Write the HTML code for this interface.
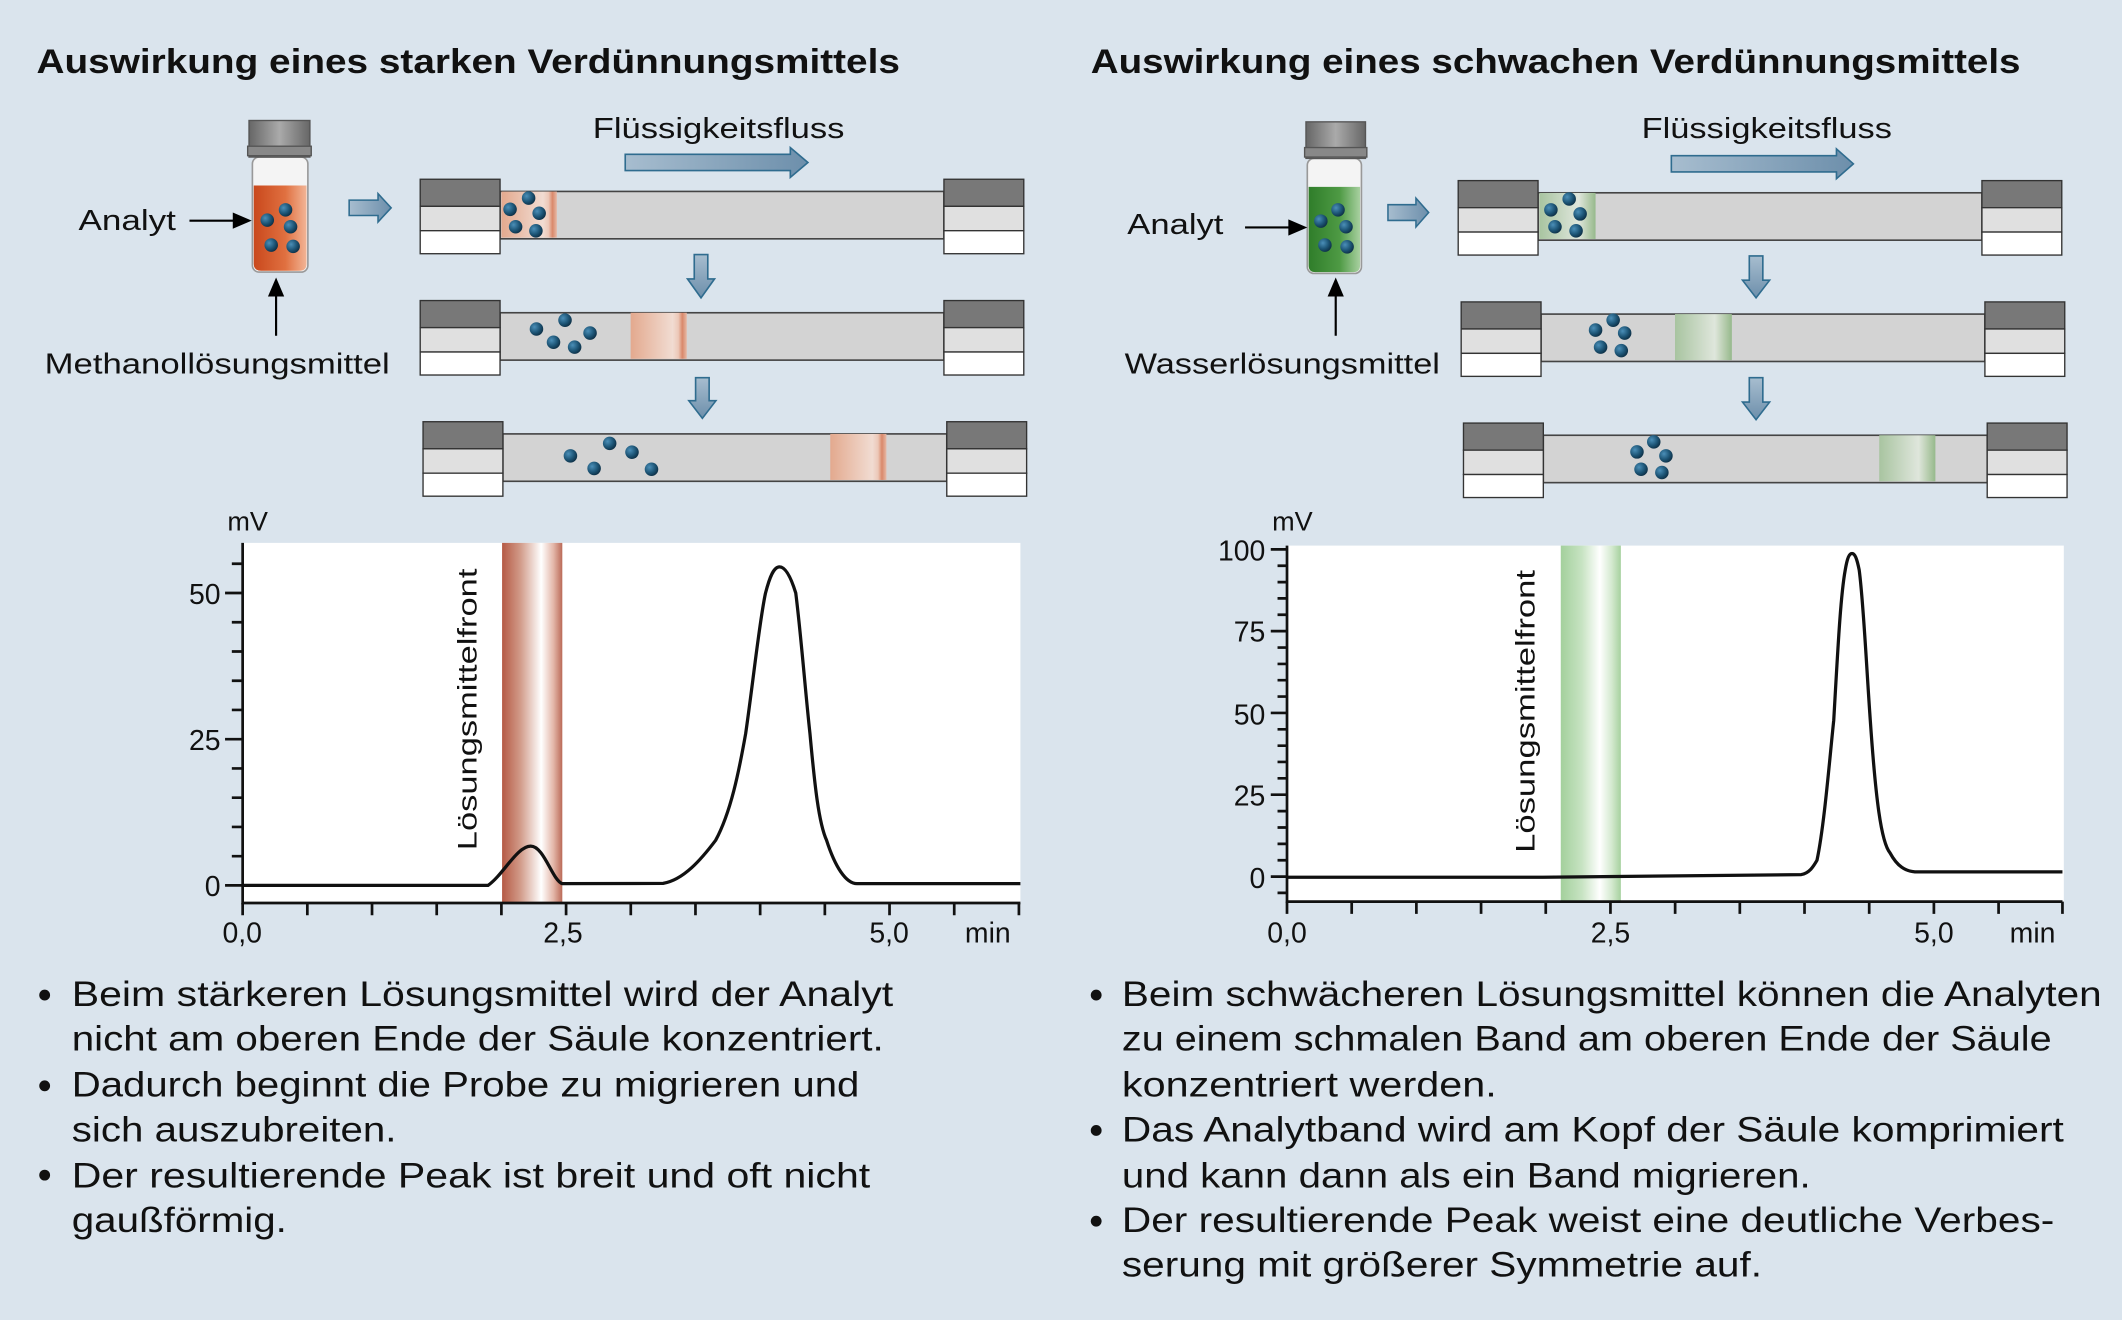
<!DOCTYPE html>
<html><head><meta charset="utf-8"><style>
html,body{margin:0;padding:0;background:#dae4ed;}
svg{display:block}
text{font-family:"Liberation Sans",sans-serif;fill:#111}
</style></head><body>
<svg width="2122" height="1320" viewBox="0 0 1568 975" preserveAspectRatio="none" xmlns="http://www.w3.org/2000/svg">
<defs>
<linearGradient id="orgV" x1="0" x2="1"><stop offset="0" stop-color="#c9481c"/><stop offset="0.6" stop-color="#e07040"/><stop offset="1" stop-color="#f2b596"/></linearGradient>
<linearGradient id="grnV" x1="0" x2="1"><stop offset="0" stop-color="#2f7d2a"/><stop offset="0.6" stop-color="#4e9a44"/><stop offset="1" stop-color="#a8d0a0"/></linearGradient>
<linearGradient id="capG" x1="0" x2="1"><stop offset="0" stop-color="#666"/><stop offset="0.5" stop-color="#aaa"/><stop offset="1" stop-color="#666"/></linearGradient>
<linearGradient id="oB" x1="0" x2="1"><stop offset="0" stop-color="#e3a98e"/><stop offset="0.75" stop-color="#f1dcd2"/><stop offset="0.85" stop-color="#ecc8b8"/><stop offset="0.92" stop-color="#d9886a"/><stop offset="1" stop-color="#e6b9a6"/></linearGradient>
<linearGradient id="gB" x1="0" x2="1"><stop offset="0" stop-color="#a8c4a0"/><stop offset="0.7" stop-color="#dfe6dc"/><stop offset="0.88" stop-color="#b4cbab"/><stop offset="1" stop-color="#96b98c"/></linearGradient>
<linearGradient id="rF" x1="0" x2="1"><stop offset="0" stop-color="#b55a45"/><stop offset="0.3" stop-color="#d19a88"/><stop offset="0.65" stop-color="#ffffff"/><stop offset="0.85" stop-color="#e4b8aa"/><stop offset="1" stop-color="#bb6a58"/></linearGradient>
<linearGradient id="gF" x1="0" x2="1"><stop offset="0" stop-color="#a3d09c"/><stop offset="0.35" stop-color="#c7e3c2"/><stop offset="0.65" stop-color="#ffffff"/><stop offset="0.85" stop-color="#d3e9ce"/><stop offset="1" stop-color="#a6d19f"/></linearGradient>
<linearGradient id="arH" x1="0" x2="1"><stop offset="0" stop-color="#a7bdcf"/><stop offset="1" stop-color="#6d8fab"/></linearGradient>
<linearGradient id="arV" x1="0" x2="0" y1="0" y2="1"><stop offset="0" stop-color="#a7bdcf"/><stop offset="1" stop-color="#6d8fab"/></linearGradient>
<radialGradient id="dot" cx="0.35" cy="0.35" r="0.7"><stop offset="0" stop-color="#4b8fb8"/><stop offset="0.6" stop-color="#1d5576"/><stop offset="1" stop-color="#0d2f45"/></radialGradient>
<g id="cap">
<rect x="0" y="0" width="59" height="20" fill="#787878" stroke="#333" stroke-width="1"/>
<rect x="0" y="20" width="59" height="18" fill="#e0e0e0" stroke="#333" stroke-width="1"/>
<rect x="0" y="38" width="59" height="17" fill="#fff" stroke="#333" stroke-width="1"/>
</g>
<g id="col">
<rect x="59" y="9" width="328" height="35" fill="#d3d3d3" stroke="#444" stroke-width="1.2"/>
<use href="#cap"/>
<use href="#cap" x="387"/>
</g>
<path id="harr" d="M0,-6 L22,-6 L22,-11 L32,0 L22,11 L22,6 L0,6 Z"/>
</defs>

<!-- ============ LEFT ============ -->
<text x="27" y="54" font-size="25" font-weight="bold" textLength="638" lengthAdjust="spacingAndGlyphs">Auswirkung eines starken Verdünnungsmittels</text>

<!-- vial -->
<rect x="186.5" y="116" width="41" height="85" rx="5" fill="#f4f4f4" stroke="#999" stroke-width="1.2"/>
<path d="M187.5,137 H226.5 V195 Q226.5,200 221,200 H193 Q187.5,200 187.5,195 Z" fill="url(#orgV)"/>
<rect x="184" y="89" width="45" height="27" fill="url(#capG)" stroke="#555"/>
<rect x="183" y="108" width="47" height="7" fill="#888" stroke="#555"/>
<g fill="url(#dot)"><circle cx="211" cy="155" r="5"/><circle cx="197.5" cy="162.6" r="5"/><circle cx="214.7" cy="167.5" r="5"/><circle cx="200.4" cy="181" r="5"/><circle cx="216.6" cy="182" r="5"/></g>
<text x="58" y="170" font-size="21" textLength="72" lengthAdjust="spacingAndGlyphs">Analyt</text>
<line x1="140" y1="163" x2="175" y2="163" stroke="#000" stroke-width="1.6"/><path d="M186,163 L172,157 L172,169 Z"/>
<line x1="204" y1="248" x2="204" y2="217" stroke="#000" stroke-width="1.6"/><path d="M204,205 L198,219 L210,219 Z"/>
<text x="33" y="276" font-size="21" textLength="255" lengthAdjust="spacingAndGlyphs">Methanollösungsmittel</text>
<g transform="translate(258,153.5) scale(0.97,0.95)"><use href="#harr" fill="url(#arH)" stroke="#2f6c8f" stroke-width="1.2"/></g>
<text x="438" y="102" font-size="21" textLength="186" lengthAdjust="spacingAndGlyphs">Flüssigkeitsfluss</text>
<path d="M462,114 L584,114 L584,109 L597,120 L584,131 L584,126 L462,126 Z" fill="url(#arH)" stroke="#2f6c8f" stroke-width="1.2"/>

<use href="#col" x="310.5" y="132.4"/>
<rect x="370.5" y="141.5" width="41" height="34" fill="url(#oB)"/>
<use href="#col" x="310.5" y="222"/>
<rect x="466" y="231" width="41.5" height="34" fill="url(#oB)"/>
<use href="#col" x="312.6" y="311.5"/>
<rect x="613.5" y="320.5" width="41.5" height="34" fill="url(#oB)"/>
<g fill="url(#dot)">
<circle cx="390.6" cy="146.3" r="5"/><circle cx="376.9" cy="154.6" r="5"/><circle cx="398.4" cy="157.5" r="5"/><circle cx="381" cy="167.5" r="5"/><circle cx="396" cy="170.5" r="5"/>
<circle cx="417.5" cy="236.5" r="5"/><circle cx="396.4" cy="243" r="5"/><circle cx="436" cy="246" r="5"/><circle cx="409" cy="252.8" r="5"/><circle cx="424.6" cy="256.4" r="5"/>
<circle cx="450.5" cy="327.5" r="5"/><circle cx="421.5" cy="336.7" r="5"/><circle cx="467" cy="334" r="5"/><circle cx="439" cy="346" r="5"/><circle cx="481.4" cy="346.6" r="5"/>
</g>
<path d="M513,188 H523 V206 H528 L518,220 L508,206 H513 Z" fill="url(#arV)" stroke="#2f6c8f" stroke-width="1.2"/>
<path d="M514,279 H524 V296 H529 L519,309 L509,296 H514 Z" fill="url(#arV)" stroke="#2f6c8f" stroke-width="1.2"/>

<!-- left chart -->
<rect x="180" y="401" width="574" height="266" fill="#fff"/>
<rect x="371" y="401" width="44.5" height="266" fill="url(#rF)"/>
<text x="168" y="392" font-size="20">mV</text>
<g stroke="#111" stroke-width="2" fill="none">
<path d="M179.3,401 V667 H754"/>
<path d="M179.3,654 h-13 M179.3,546 h-13 M179.3,438 h-13 M179.3,632.4 h-8 M179.3,610.8 h-8 M179.3,589.2 h-8 M179.3,567.6 h-8 M179.3,524.4 h-8 M179.3,502.8 h-8 M179.3,481.2 h-8 M179.3,459.6 h-8 M179.3,416.4 h-8"/>
<path d="M179.3,667 v9 M227.1,667 v9 M274.9,667 v9 M322.7,667 v9 M370.5,667 v9 M418.3,667 v9 M466.1,667 v9 M513.9,667 v9 M561.7,667 v9 M609.5,667 v9 M657.3,667 v9 M705.1,667 v9 M752.9,667 v9"/>
<path stroke-width="2.4" d="M180,654 L360.6,654 C372,646 382,625 392.2,625 C402,625 408,650 415.4,652.7 L490,652.5 C505,650 518,635 528.8,620.7 C540,600 546,570 551,541.8 C557,500 561,460 565.6,438.3 C569,425 572,418.7 576,418.7 C580,418.7 584,425 588,438 C592,470 595,510 598.5,541.8 C602,580 605,608 610.8,620.7 C617,640 625,652.7 633.3,652.7 L754,652.7"/>
</g>
<g font-size="21" text-anchor="end"><text x="163" y="446">50</text><text x="163" y="554">25</text><text x="163" y="662">0</text></g>
<g font-size="21" text-anchor="middle"><text x="179" y="696">0,0</text><text x="416" y="696">2,5</text><text x="657" y="696">5,0</text></g>
<text x="713" y="696" font-size="21">min</text>
<text transform="translate(352,524) rotate(-90)" font-size="20" text-anchor="middle" textLength="208" lengthAdjust="spacingAndGlyphs">Lösungsmittelfront</text>

<!-- left bullets -->
<g font-size="26"><g fill="#111"><circle cx="33" cy="735" r="4"/><circle cx="33" cy="802" r="4"/><circle cx="33" cy="868" r="4"/></g>
<text x="53" y="743" textLength="607" lengthAdjust="spacingAndGlyphs">Beim stärkeren Lösungsmittel wird der Analyt</text>
<text x="53" y="776" textLength="600" lengthAdjust="spacingAndGlyphs">nicht am oberen Ende der Säule konzentriert.</text>
<text x="53" y="810" textLength="582" lengthAdjust="spacingAndGlyphs">Dadurch beginnt die Probe zu migrieren und</text>
<text x="53" y="843" textLength="240" lengthAdjust="spacingAndGlyphs">sich auszubreiten.</text>
<text x="53" y="877" textLength="590" lengthAdjust="spacingAndGlyphs">Der resultierende Peak ist breit und oft nicht</text>
<text x="53" y="910" textLength="159" lengthAdjust="spacingAndGlyphs">gaußförmig.</text></g>

<!-- ============ RIGHT ============ -->
<text x="806" y="54" font-size="25" font-weight="bold" textLength="687" lengthAdjust="spacingAndGlyphs">Auswirkung eines schwachen Verdünnungsmittels</text>
<rect x="966" y="117" width="40" height="85" rx="5" fill="#f4f4f4" stroke="#999" stroke-width="1.2"/>
<path d="M967,138 H1005 V196 Q1005,201 1000,201 H972 Q967,201 967,196 Z" fill="url(#grnV)"/>
<rect x="965" y="90" width="44" height="27" fill="url(#capG)" stroke="#555"/>
<rect x="964" y="109" width="46" height="7" fill="#888" stroke="#555"/>
<g fill="url(#dot)"><circle cx="988.7" cy="155" r="5"/><circle cx="976" cy="163.3" r="5"/><circle cx="994.6" cy="167.5" r="5"/><circle cx="979" cy="181" r="5"/><circle cx="995.4" cy="182.3" r="5"/></g>
<text x="833" y="173" font-size="21" textLength="71" lengthAdjust="spacingAndGlyphs">Analyt</text>
<line x1="920" y1="168" x2="955" y2="168" stroke="#000" stroke-width="1.6"/><path d="M966,168 L952,162 L952,174 Z"/>
<line x1="987" y1="248" x2="987" y2="217" stroke="#000" stroke-width="1.6"/><path d="M987,205 L981,219 L993,219 Z"/>
<text x="831" y="276" font-size="21" textLength="233" lengthAdjust="spacingAndGlyphs">Wasserlösungsmittel</text>
<g transform="translate(1025.6,157) scale(0.94,0.97)"><use href="#harr" fill="url(#arH)" stroke="#2f6c8f" stroke-width="1.2"/></g>
<text x="1213" y="102" font-size="21" textLength="185" lengthAdjust="spacingAndGlyphs">Flüssigkeitsfluss</text>
<path d="M1235,115 L1357,115 L1357,110 L1369.5,121 L1357,132 L1357,127 L1235,127 Z" fill="url(#arH)" stroke="#2f6c8f" stroke-width="1.2"/>

<use href="#col" x="1077.5" y="133.4"/>
<rect x="1137.5" y="142.5" width="41.5" height="34" fill="url(#gB)"/>
<use href="#col" x="1079.7" y="223"/>
<rect x="1237.7" y="232" width="42" height="34" fill="url(#gB)"/>
<use href="#col" x="1081.4" y="312.5"/>
<rect x="1388.6" y="321.5" width="41.5" height="34" fill="url(#gB)"/>
<g fill="url(#dot)">
<circle cx="1159.5" cy="147" r="5"/><circle cx="1146" cy="155" r="5"/><circle cx="1167.6" cy="158" r="5"/><circle cx="1149" cy="167.5" r="5"/><circle cx="1164.6" cy="170.5" r="5"/>
<circle cx="1192" cy="236.5" r="5"/><circle cx="1179" cy="243.8" r="5"/><circle cx="1200.5" cy="246" r="5"/><circle cx="1182.7" cy="256.4" r="5"/><circle cx="1198" cy="259" r="5"/>
<circle cx="1222" cy="326.4" r="5"/><circle cx="1209.6" cy="333.8" r="5"/><circle cx="1231" cy="336.7" r="5"/><circle cx="1212.6" cy="346.6" r="5"/><circle cx="1228" cy="349" r="5"/>
</g>
<path d="M1292.6,189 H1302.6 V207 H1307.6 L1297.6,220 L1287.6,207 H1292.6 Z" fill="url(#arV)" stroke="#2f6c8f" stroke-width="1.2"/>
<path d="M1292.6,279 H1302.6 V297 H1307.6 L1297.6,310 L1287.6,297 H1292.6 Z" fill="url(#arV)" stroke="#2f6c8f" stroke-width="1.2"/>

<!-- right chart -->
<rect x="952" y="403" width="573" height="263" fill="#fff"/>
<rect x="1153.3" y="403" width="44.4" height="263" fill="url(#gF)"/>
<text x="940" y="392" font-size="20">mV</text>
<g stroke="#111" stroke-width="2" fill="none">
<path d="M951,403 V666 H1524"/>
<path d="M951,405.8 h-12 M951,466.2 h-12 M951,526.6 h-12 M951,587 h-12 M951,647.5 h-12
M951,417.9 h-7 M951,430 h-7 M951,442 h-7 M951,454.1 h-7 M951,478.3 h-7 M951,490.4 h-7 M951,502.4 h-7 M951,514.5 h-7 M951,538.7 h-7 M951,550.8 h-7 M951,562.8 h-7 M951,574.9 h-7 M951,599.1 h-7 M951,611.2 h-7 M951,623.3 h-7 M951,635.4 h-7 M951,659.5 h-7"/>
<path d="M951,666 v9 M998.8,666 v9 M1046.6,666 v9 M1094.4,666 v9 M1142.2,666 v9 M1190,666 v9 M1237.8,666 v9 M1285.6,666 v9 M1333.4,666 v9 M1381.2,666 v9 M1429,666 v9 M1476.8,666 v9 M1524,666 v9"/>
<path stroke-width="2.4" d="M951,648 L1140,648 L1331,646 C1337,645 1340,640 1342.6,635.5 C1348,610 1352,560 1355,532 C1358,480 1360,440 1363.5,421 C1365,412 1366.5,408.8 1368.5,408.8 C1370.5,408.8 1372,412 1373.8,421 C1377,445 1379,490 1382,532 C1386,590 1390,622 1396.6,630 C1402,640 1408,643.5 1415,644 L1524,644"/>
</g>
<g font-size="21" text-anchor="end"><text x="935" y="414">100</text><text x="935" y="474">75</text><text x="935" y="535">50</text><text x="935" y="595">25</text><text x="935" y="656">0</text></g>
<g font-size="21" text-anchor="middle"><text x="951" y="696">0,0</text><text x="1190" y="696">2,5</text><text x="1429" y="696">5,0</text></g>
<text x="1485" y="696" font-size="21">min</text>
<text transform="translate(1134,525.5) rotate(-90)" font-size="20" text-anchor="middle" textLength="209" lengthAdjust="spacingAndGlyphs">Lösungsmittelfront</text>

<g font-size="26"><g fill="#111"><circle cx="810" cy="735" r="4"/><circle cx="810" cy="835" r="4"/><circle cx="810" cy="902" r="4"/></g>
<text x="829" y="743" textLength="724" lengthAdjust="spacingAndGlyphs">Beim schwächeren Lösungsmittel können die Analyten</text>
<text x="829" y="776" textLength="687" lengthAdjust="spacingAndGlyphs">zu einem schmalen Band am oberen Ende der Säule</text>
<text x="829" y="810" textLength="277" lengthAdjust="spacingAndGlyphs">konzentriert werden.</text>
<text x="829" y="843" textLength="696" lengthAdjust="spacingAndGlyphs">Das Analytband wird am Kopf der Säule komprimiert</text>
<text x="829" y="877" textLength="509" lengthAdjust="spacingAndGlyphs">und kann dann als ein Band migrieren.</text>
<text x="829" y="910" textLength="689" lengthAdjust="spacingAndGlyphs">Der resultierende Peak weist eine deutliche Verbes-</text>
<text x="829" y="943" textLength="473" lengthAdjust="spacingAndGlyphs">serung mit größerer Symmetrie auf.</text></g>
</svg>
</body></html>
